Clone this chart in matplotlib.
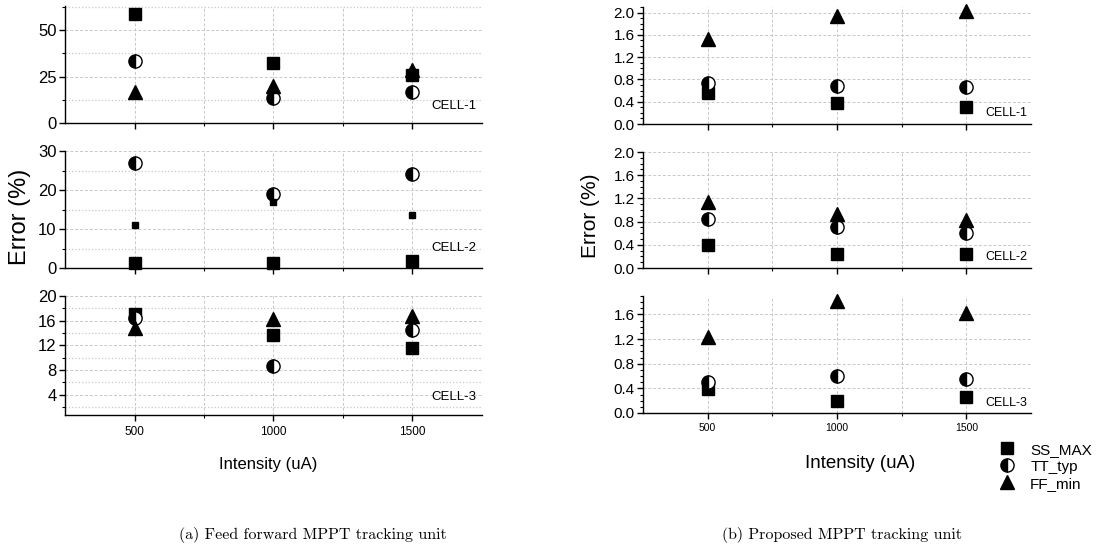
import matplotlib.pyplot as plt
import matplotlib.ticker as mt
from matplotlib.lines import Line2D

plt.rcParams['font.family'] = ['Liberation Sans', 'DejaVu Sans']

intensity = [500, 1000, 1500]
cells = ['CELL-1', 'CELL-2', 'CELL-3']

# (a) feed forward tracking unit, one row per cell
ffw_ss = [[58.5, 32.3, 26.0], [1.3, 1.3, 1.7], [17.0, 13.6, 11.5]]
ffw_tt = [[33.2, 13.2, 16.8], [27.0, 19.0, 24.0], [16.5, 8.7, 14.5]]
ffw_ff = [[16.8, 19.8, 28.4], [11.0, 17.0, 13.5], [14.8, 16.2, 16.7]]

# (b) proposed tracking unit
prop_ss = [[0.56, 0.37, 0.30], [0.40, 0.25, 0.25], [0.39, 0.20, 0.26]]
prop_tt = [[0.74, 0.68, 0.67], [0.85, 0.70, 0.61], [0.51, 0.60, 0.56]]
prop_ff = [[1.53, 1.93, 2.02], [1.13, 0.93, 0.82], [1.23, 1.82, 1.62]]

ffw_ylim = [(0, 63), (0, 30), (0.7, 20)]
ffw_major = [25, 10, 4]
ffw_minor = [12.5, 5, 2]
prop_ylim = [(0, 2.1), (0, 2.0), (0, 1.9)]

W, H = 1102, 550


def box(x0, y0, x1, y1):
    return [x0 / W, 1 - y1 / H, (x1 - x0) / W, (y1 - y0) / H]


def style(ax, ylim, major, minor, minor_grid):
    ax.set_xlim(250, 1750)
    ax.set_ylim(*ylim)
    for s in ['top', 'right']:
        ax.spines[s].set_visible(False)
    for s in ['left', 'bottom']:
        ax.spines[s].set_linewidth(1.0)
    ax.xaxis.set_major_locator(mt.FixedLocator(intensity))
    ax.xaxis.set_minor_locator(mt.FixedLocator([750, 1250]))
    ax.yaxis.set_major_locator(mt.MultipleLocator(major))
    ax.yaxis.set_minor_locator(mt.MultipleLocator(minor))
    ax.tick_params(which='major', direction='out', length=4, width=1)
    ax.tick_params(which='minor', direction='out', length=2.5, width=0.8)
    ax.grid(True, which='major', color='#c8c8c8', linestyle=(0, (3, 2)), linewidth=0.7)
    ax.grid(True, which='minor', axis='x', color='#c8c8c8', linestyle=(0, (3, 2)), linewidth=0.7)
    if minor_grid:
        ax.grid(True, which='minor', axis='y', color='#c8c8c8', linestyle=':', linewidth=0.9)
    ax.set_axisbelow(True)


def points(ax, ss, tt, ff, small_ff=False):
    kw = dict(linestyle='none', color='black', clip_on=False)
    ax.plot(intensity, ss, marker='s', markersize=8, **kw)
    ax.plot(intensity, tt, marker='o', markersize=9.5, fillstyle='left',
            markerfacecoloralt='white', markeredgewidth=1, **kw)
    if small_ff:
        ax.plot(intensity, ff, marker='s', markersize=5, **kw)
    else:
        ax.plot(intensity, ff, marker='^', markersize=9.5, **kw)


fig = plt.figure(figsize=(11.02, 5.5), dpi=100)

left_rows = [(6, 123), (151, 268), (296, 415)]
right_rows = [(7, 124), (152, 268), (296, 413)]
left_cell_y = [0.145, 0.17, 0.155]
right_cell_y = [0.097, 0.097, 0.085]

for i in range(3):
    ax = fig.add_axes(box(65, left_rows[i][0], 482, left_rows[i][1]))
    style(ax, ffw_ylim[i], ffw_major[i], ffw_minor[i], True)
    points(ax, ffw_ss[i], ffw_tt[i], ffw_ff[i], small_ff=(i == 1))
    ax.tick_params(axis='y', labelsize=12, pad=2)
    ax.text(0.933, left_cell_y[i], cells[i], transform=ax.transAxes,
            ha='center', va='center', fontsize=9.5)
    if i < 2:
        ax.tick_params(axis='x', labelbottom=False)
    else:
        ax.tick_params(axis='x', labelsize=8.5, pad=4)

    ax = fig.add_axes(box(643, right_rows[i][0], 1031, right_rows[i][1]))
    style(ax, prop_ylim[i], 0.4, 0.1, False)
    points(ax, prop_ss[i], prop_tt[i], prop_ff[i])
    ax.yaxis.set_major_formatter(mt.FormatStrFormatter('%.1f'))
    ax.tick_params(axis='y', labelsize=11, pad=2)
    ax.text(0.936, right_cell_y[i], cells[i], transform=ax.transAxes,
            ha='center', va='center', fontsize=9)
    if i < 2:
        ax.tick_params(axis='x', labelbottom=False)
    else:
        ax.tick_params(axis='x', labelsize=7.5, pad=3)

fig.text(20 / W, 1 - 217 / H, 'Error (%)', rotation=90, ha='center', va='center', fontsize=17)
fig.text(590 / W, 1 - 216 / H, 'Error (%)', rotation=90, ha='center', va='center', fontsize=15)
fig.text(268 / W, 1 - 465 / H, 'Intensity (uA)', ha='center', va='center', fontsize=12)
fig.text(860 / W, 1 - 463 / H, 'Intensity (uA)', ha='center', va='center', fontsize=13.5)

handles = [
    Line2D([], [], linestyle='none', marker='s', markersize=8, color='black'),
    Line2D([], [], linestyle='none', marker='o', markersize=9.5, color='black',
           fillstyle='left', markerfacecoloralt='white'),
    Line2D([], [], linestyle='none', marker='^', markersize=9.5, color='black'),
]
fig.legend(handles, ['SS_MAX', 'TT_typ', 'FF_min'], loc='upper left',
           bbox_to_anchor=(992 / W, 1 - 435 / H), frameon=False, fontsize=11,
           handlelength=1.0, handletextpad=1.0, labelspacing=0.2, borderpad=0)

fig.text(313 / W, 1 - 535 / H, '(a) Feed forward MPPT tracking unit',
         ha='center', va='center', fontsize=11.5, family='cmr10')
fig.text(842 / W, 1 - 535 / H, '(b) Proposed MPPT tracking unit',
         ha='center', va='center', fontsize=11.5, family='cmr10')

fig.savefig('out.png', dpi=100)
